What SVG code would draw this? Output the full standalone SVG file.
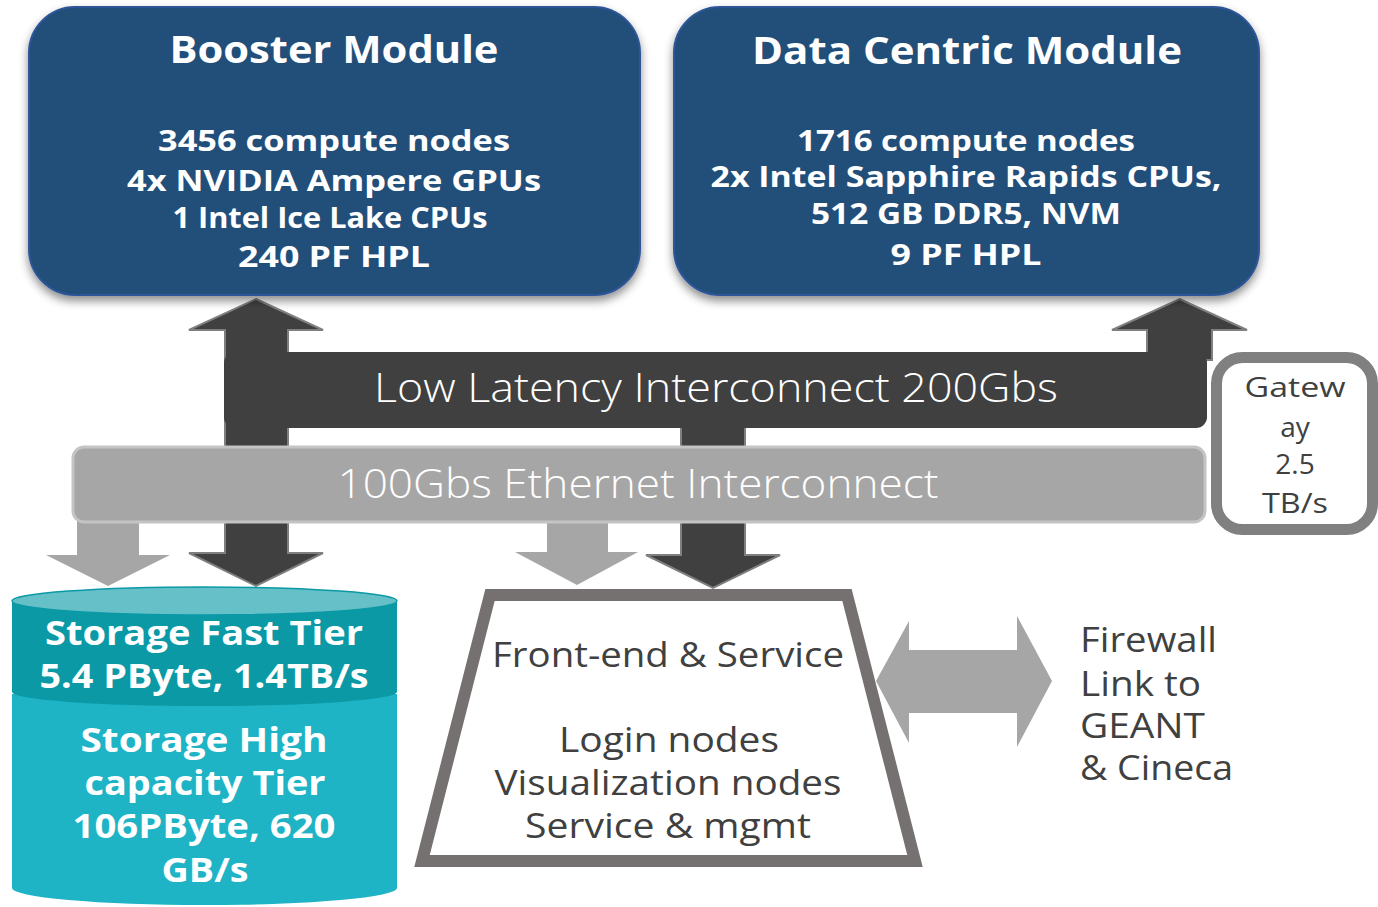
<svg xmlns="http://www.w3.org/2000/svg" width="1378" height="907" viewBox="0 0 1378 907">
<defs>
<filter id="sh" x="-10%" y="-10%" width="120%" height="130%">
<feDropShadow dx="0" dy="5" stdDeviation="5" flood-color="#000" flood-opacity="0.45"/>
</filter>
<style>
.mod{fill:#214F7A;stroke:#2F5597;stroke-width:2}
.wb{fill:#fff;font-family:"Open Sans","Noto Sans",sans-serif;font-weight:700;text-anchor:middle}
.wl{fill:#fff;font-family:"Open Sans","Noto Sans",sans-serif;font-weight:300;text-anchor:middle}
.gt{fill:#404040;font-family:"Open Sans","Noto Sans",sans-serif;font-weight:400}
.da{fill:#404040;stroke:#7F7F7F;stroke-width:2}
.la{fill:#A6A6A6}
</style>
</defs>

<g id="connectors">
<polygon class="da" points="256,299 323,330 288,330 288,553 323,553 256,586 189,553 225,553 225,330 189,330"/>
<polygon class="da" points="681,420 745,420 745,555 780,555 713,588 646,555 681,555"/>
<polygon class="da" points="1179.5,299 1247,330 1212,330 1212,360 1147,360 1147,330 1112,330"/>
<polygon class="la" points="77,515 139,515 139,555 170,555 108,586 46,555 77,555"/>
<polygon class="la" points="547,515 608,515 608,552 638,552 577,585 515,552 547,552"/>
<polygon class="la" points="876,681 909,621 909,650 1017,650 1017,616 1052,681 1017,747 1017,713 909,713 909,743"/>
</g>

<g id="booster">
<rect class="mod" x="29" y="7" width="611" height="288" rx="46" filter="url(#sh)"/>
<text class="wb" x="334" y="63" font-size="37" textLength="329" lengthAdjust="spacingAndGlyphs">Booster Module</text>
<text class="wb" x="334" y="151" font-size="29" textLength="352" lengthAdjust="spacingAndGlyphs">3456 compute nodes</text>
<text class="wb" x="334" y="191" font-size="29" textLength="414" lengthAdjust="spacingAndGlyphs">4x NVIDIA Ampere GPUs</text>
<text class="wb" x="330" y="228" font-size="29" textLength="315" lengthAdjust="spacingAndGlyphs">1 Intel Ice Lake CPUs</text>
<text class="wb" x="334" y="267" font-size="29" textLength="192" lengthAdjust="spacingAndGlyphs">240 PF HPL</text>
</g>

<g id="datacentric">
<rect class="mod" x="674" y="7" width="585" height="288" rx="46" filter="url(#sh)"/>
<text class="wb" x="967" y="64" font-size="38" textLength="430" lengthAdjust="spacingAndGlyphs">Data Centric Module</text>
<text class="wb" x="966" y="151" font-size="29" textLength="338" lengthAdjust="spacingAndGlyphs">1716 compute nodes</text>
<text class="wb" x="966" y="187" font-size="29" textLength="511" lengthAdjust="spacingAndGlyphs">2x Intel Sapphire Rapids CPUs,</text>
<text class="wb" x="966" y="224" font-size="29" textLength="310" lengthAdjust="spacingAndGlyphs">512 GB DDR5, NVM</text>
<text class="wb" x="966" y="265" font-size="29" textLength="151" lengthAdjust="spacingAndGlyphs">9 PF HPL</text>
</g>

<g id="lowlatency">
<rect x="224" y="352" width="983" height="76" rx="11" fill="#404040"/>
<text class="wl" x="716" y="402" font-size="40" textLength="684" lengthAdjust="spacingAndGlyphs">Low Latency Interconnect 200Gbs</text>
</g>

<g id="ethernet">
<rect x="73" y="447" width="1132" height="75" rx="11" fill="#A6A6A6" stroke="#C4C4C4" stroke-width="3"/>
<text class="wl" x="638" y="498" font-size="40" textLength="601" lengthAdjust="spacingAndGlyphs">100Gbs Ethernet Interconnect</text>
</g>

<g id="gateway">
<rect x="1216.5" y="357.5" width="156" height="172" rx="26" fill="#fff" stroke="#808080" stroke-width="11"/>
<text class="gt" x="1295" y="397" font-size="28" text-anchor="middle" textLength="101" lengthAdjust="spacingAndGlyphs">Gatew</text>
<text class="gt" x="1295" y="437" font-size="28" text-anchor="middle">ay</text>
<text class="gt" x="1295" y="474" font-size="28" text-anchor="middle">2.5</text>
<text class="gt" x="1295" y="513" font-size="28" text-anchor="middle" textLength="66" lengthAdjust="spacingAndGlyphs">TB/s</text>
</g>

<g id="storage">
<path d="M12,694 L12,888 A192.5,17 0 0 0 397,888 L397,694 Z" fill="#1EB3C5"/>
<path d="M12,601 L12,692 A192.5,14 0 0 0 397,692 L397,601 Z" fill="#0B99A6"/>
<ellipse cx="204.5" cy="601" rx="192.5" ry="14" fill="#66C0C8" stroke="#0B99A6" stroke-width="1.5"/>
<text class="wb" x="204" y="645" font-size="34" textLength="318" lengthAdjust="spacingAndGlyphs">Storage Fast Tier</text>
<text class="wb" x="204" y="688" font-size="34" textLength="329" lengthAdjust="spacingAndGlyphs">5.4 PByte, 1.4TB/s</text>
<text class="wb" x="204" y="752" font-size="34" textLength="247" lengthAdjust="spacingAndGlyphs">Storage High</text>
<text class="wb" x="205" y="795" font-size="34" textLength="241" lengthAdjust="spacingAndGlyphs">capacity Tier</text>
<text class="wb" x="204" y="838" font-size="34" textLength="263" lengthAdjust="spacingAndGlyphs">106PByte, 620</text>
<text class="wb" x="205" y="882" font-size="34" textLength="87" lengthAdjust="spacingAndGlyphs">GB/s</text>
</g>

<g id="frontend">
<polygon points="490,595 847,595 915,861 422,861" fill="#fff" stroke="#767171" stroke-width="12"/>
<text class="gt" x="668" y="667" font-size="35" text-anchor="middle" textLength="352" lengthAdjust="spacingAndGlyphs">Front-end &amp; Service</text>
<text class="gt" x="669" y="752" font-size="34" text-anchor="middle" textLength="220" lengthAdjust="spacingAndGlyphs">Login nodes</text>
<text class="gt" x="668" y="795" font-size="34" text-anchor="middle" textLength="347" lengthAdjust="spacingAndGlyphs">Visualization nodes</text>
<text class="gt" x="668" y="838" font-size="34" text-anchor="middle" textLength="286" lengthAdjust="spacingAndGlyphs">Service &amp; mgmt</text>
</g>

<g id="firewall">
<text class="gt" x="1080" y="652" font-size="34" textLength="137" lengthAdjust="spacingAndGlyphs">Firewall</text>
<text class="gt" x="1080" y="696" font-size="34" textLength="121" lengthAdjust="spacingAndGlyphs">Link to</text>
<text class="gt" x="1080" y="738" font-size="34" textLength="125" lengthAdjust="spacingAndGlyphs">GEANT</text>
<text class="gt" x="1080" y="780" font-size="34" textLength="153" lengthAdjust="spacingAndGlyphs">&amp; Cineca</text>
</g>
</svg>
